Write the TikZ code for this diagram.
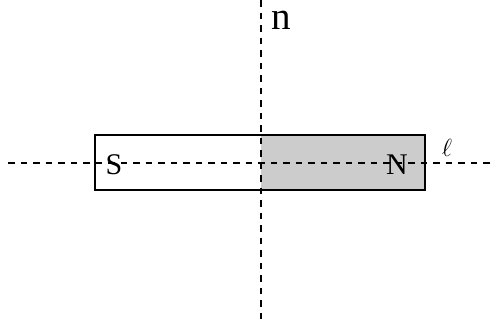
\documentclass[tikz,border=0pt]{standalone}
\usepackage{fontspec}
\setmainfont{Liberation Serif}
\usetikzlibrary{positioning}

\begin{document}
\begin{tikzpicture}[
  x=1bp,y=-1bp,
  half/.style={minimum height=55bp,inner sep=0pt,outer sep=0pt},
  axis/.style={line width=1.2bp,dash pattern=on 6.5bp off 6bp},
  pole/.style={font=\fontsize{30bp}{36bp}\selectfont,anchor=base,inner sep=0pt}
]
  \useasboundingbox (0,0) rectangle (493,329);

  \node[half,minimum width=166bp,fill=white,anchor=north west] (south) at (95,135) {};
  \node[half,minimum width=164bp,fill=gray!40,right=0pt of south] (north) {};
  \draw[line width=1.2bp] (south.north west) rectangle (north.south east);

  \node[pole] (s) at (114,174) {S};
  \node[pole] (nn) at (397,174) {N};

  \coordinate (top) at (261,0);
  \coordinate (bottom) at (261,322);
  \coordinate (left) at (8,163);
  \coordinate (right) at (493,163);
  \draw[axis] (top) -- (bottom);
  \draw[axis] (left) -- (right);

  \node[font=\fontsize{39bp}{44bp}\selectfont,anchor=base,inner sep=0pt] (normal) at (281,29.5) {n};
  \node[font=\fontsize{25bp}{30bp}\selectfont,anchor=base,inner sep=0pt] (line) at (447,156.5) {$\ell$};
\end{tikzpicture}
\end{document}
